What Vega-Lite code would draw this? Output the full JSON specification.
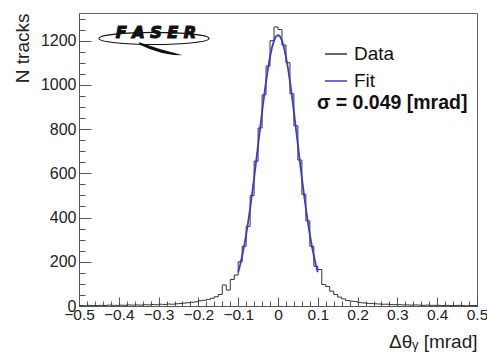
{
  "$schema": "https://vega.github.io/schema/vega-lite/v6.json",
  "width": 398,
  "height": 293,
  "autosize": "none",
  "padding": {"left": 79, "top": 13, "right": 10, "bottom": 48},
  "background": "white",
  "config": {
    "font": "Liberation Sans",
    "view": {"stroke": "#666", "strokeWidth": 1}
  },
  "datasets": {
    "hist": [
      {"dtheta": -0.50, "count": 2}, {"dtheta": -0.49, "count": 1}, {"dtheta": -0.48, "count": 3}, {"dtheta": -0.47, "count": 2}, {"dtheta": -0.46, "count": 2},
      {"dtheta": -0.45, "count": 3}, {"dtheta": -0.44, "count": 2}, {"dtheta": -0.43, "count": 4}, {"dtheta": -0.42, "count": 3}, {"dtheta": -0.41, "count": 3},
      {"dtheta": -0.40, "count": 4}, {"dtheta": -0.39, "count": 3}, {"dtheta": -0.38, "count": 5}, {"dtheta": -0.37, "count": 4}, {"dtheta": -0.36, "count": 5},
      {"dtheta": -0.35, "count": 4}, {"dtheta": -0.34, "count": 6}, {"dtheta": -0.33, "count": 5}, {"dtheta": -0.32, "count": 7}, {"dtheta": -0.31, "count": 6},
      {"dtheta": -0.30, "count": 8}, {"dtheta": -0.29, "count": 7}, {"dtheta": -0.28, "count": 9}, {"dtheta": -0.27, "count": 8}, {"dtheta": -0.26, "count": 10},
      {"dtheta": -0.25, "count": 11}, {"dtheta": -0.24, "count": 13}, {"dtheta": -0.23, "count": 15}, {"dtheta": -0.22, "count": 17}, {"dtheta": -0.21, "count": 19},
      {"dtheta": -0.20, "count": 24}, {"dtheta": -0.19, "count": 26}, {"dtheta": -0.18, "count": 30}, {"dtheta": -0.17, "count": 35}, {"dtheta": -0.16, "count": 42},
      {"dtheta": -0.15, "count": 52}, {"dtheta": -0.14, "count": 95}, {"dtheta": -0.13, "count": 72}, {"dtheta": -0.12, "count": 120}, {"dtheta": -0.11, "count": 140},
      {"dtheta": -0.10, "count": 200}, {"dtheta": -0.09, "count": 270}, {"dtheta": -0.08, "count": 360}, {"dtheta": -0.07, "count": 500}, {"dtheta": -0.06, "count": 655},
      {"dtheta": -0.05, "count": 805}, {"dtheta": -0.04, "count": 955}, {"dtheta": -0.03, "count": 1085}, {"dtheta": -0.02, "count": 1200}, {"dtheta": -0.01, "count": 1262},
      {"dtheta": 0.00, "count": 1250}, {"dtheta": 0.01, "count": 1180}, {"dtheta": 0.02, "count": 1100}, {"dtheta": 0.03, "count": 960}, {"dtheta": 0.04, "count": 815},
      {"dtheta": 0.05, "count": 660}, {"dtheta": 0.06, "count": 505}, {"dtheta": 0.07, "count": 385}, {"dtheta": 0.08, "count": 270}, {"dtheta": 0.09, "count": 180},
      {"dtheta": 0.10, "count": 165}, {"dtheta": 0.11, "count": 97}, {"dtheta": 0.12, "count": 88}, {"dtheta": 0.13, "count": 67}, {"dtheta": 0.14, "count": 52},
      {"dtheta": 0.15, "count": 40}, {"dtheta": 0.16, "count": 32}, {"dtheta": 0.17, "count": 25}, {"dtheta": 0.18, "count": 22}, {"dtheta": 0.19, "count": 20},
      {"dtheta": 0.20, "count": 16}, {"dtheta": 0.21, "count": 14}, {"dtheta": 0.22, "count": 12}, {"dtheta": 0.23, "count": 11}, {"dtheta": 0.24, "count": 10},
      {"dtheta": 0.25, "count": 9}, {"dtheta": 0.26, "count": 8}, {"dtheta": 0.27, "count": 8}, {"dtheta": 0.28, "count": 7}, {"dtheta": 0.29, "count": 6},
      {"dtheta": 0.30, "count": 6}, {"dtheta": 0.31, "count": 5}, {"dtheta": 0.32, "count": 5}, {"dtheta": 0.33, "count": 4}, {"dtheta": 0.34, "count": 5},
      {"dtheta": 0.35, "count": 4}, {"dtheta": 0.36, "count": 3}, {"dtheta": 0.37, "count": 4}, {"dtheta": 0.38, "count": 3}, {"dtheta": 0.39, "count": 3},
      {"dtheta": 0.40, "count": 3}, {"dtheta": 0.41, "count": 2}, {"dtheta": 0.42, "count": 3}, {"dtheta": 0.43, "count": 2}, {"dtheta": 0.44, "count": 2},
      {"dtheta": 0.45, "count": 3}, {"dtheta": 0.46, "count": 2}, {"dtheta": 0.47, "count": 1}, {"dtheta": 0.48, "count": 2}, {"dtheta": 0.49, "count": 2},
      {"dtheta": 0.50, "count": 2}
    ],
    "fit": [
      {"dtheta": -0.100, "count": 153}, {"dtheta": -0.095, "count": 187}, {"dtheta": -0.090, "count": 227}, {"dtheta": -0.085, "count": 272},
      {"dtheta": -0.080, "count": 323}, {"dtheta": -0.075, "count": 380}, {"dtheta": -0.070, "count": 441}, {"dtheta": -0.065, "count": 508},
      {"dtheta": -0.060, "count": 579}, {"dtheta": -0.055, "count": 653}, {"dtheta": -0.050, "count": 728}, {"dtheta": -0.045, "count": 803},
      {"dtheta": -0.040, "count": 878}, {"dtheta": -0.035, "count": 949}, {"dtheta": -0.030, "count": 1016}, {"dtheta": -0.025, "count": 1076},
      {"dtheta": -0.020, "count": 1127}, {"dtheta": -0.015, "count": 1169}, {"dtheta": -0.010, "count": 1200}, {"dtheta": -0.005, "count": 1219},
      {"dtheta": 0.000, "count": 1225},
      {"dtheta": 0.005, "count": 1219}, {"dtheta": 0.010, "count": 1200}, {"dtheta": 0.015, "count": 1169}, {"dtheta": 0.020, "count": 1127},
      {"dtheta": 0.025, "count": 1076}, {"dtheta": 0.030, "count": 1016}, {"dtheta": 0.035, "count": 949}, {"dtheta": 0.040, "count": 878},
      {"dtheta": 0.045, "count": 803}, {"dtheta": 0.050, "count": 728}, {"dtheta": 0.055, "count": 653}, {"dtheta": 0.060, "count": 579},
      {"dtheta": 0.065, "count": 508}, {"dtheta": 0.070, "count": 441}, {"dtheta": 0.075, "count": 380}, {"dtheta": 0.080, "count": 323},
      {"dtheta": 0.085, "count": 272}, {"dtheta": 0.090, "count": 227}, {"dtheta": 0.095, "count": 187}, {"dtheta": 0.100, "count": 153}
    ],
    "notes": [
      {"label": "σ = 0.049 [mrad]", "logo": "F A S E R"}
    ]
  },
  "resolve": {"axis": {"x": "independent", "y": "independent"}},
  "layer": [
    {
      "data": {"name": "hist"},
      "mark": {"type": "line", "interpolate": "step-after", "strokeWidth": 1},
      "encoding": {
        "x": {
          "field": "dtheta", "type": "quantitative",
          "scale": {"domain": [-0.5, 0.5], "nice": false, "zero": false},
          "axis": {
            "orient": "bottom",
            "values": [-0.5, -0.4, -0.3, -0.2, -0.1, 0, 0.1, 0.2, 0.3, 0.4, 0.5],
            "format": "~g",
            "tickSize": -9, "tickColor": "#555", "domainColor": "#555", "grid": false,
            "labelFontSize": 15.5, "labelColor": "#222", "labelPadding": 10, "labelFlush": false, "labelOverlap": false,
            "title": "Δθᵧ [mrad]", "titleFontSize": 19, "titleFontWeight": "normal", "titleColor": "#222",
            "titleAnchor": "end", "titlePadding": 10
          }
        },
        "y": {
          "field": "count", "type": "quantitative",
          "scale": {"domain": [0, 1325], "nice": false},
          "axis": {
            "orient": "left",
            "values": [0, 200, 400, 600, 800, 1000, 1200],
            "format": "d",
            "tickSize": -12, "tickColor": "#555", "domainColor": "#555", "grid": false,
            "labelFontSize": 16, "labelColor": "#222", "labelPadding": 15,
            "title": "N tracks", "titleFontSize": 19, "titleFontWeight": "normal", "titleColor": "#222",
            "titleAnchor": "end", "titlePadding": 8
          }
        },
        "color": {
          "datum": "Data",
          "scale": {"domain": ["Data", "Fit"], "range": ["#333333", "#3b3bcf"]},
          "legend": {
            "orient": "none", "legendX": 245, "legendY": 29, "title": null,
            "labelFontSize": 19, "labelColor": "#111", "labelFont": "Liberation Sans",
            "symbolType": "stroke", "symbolSize": 484, "symbolStrokeWidth": 1.5,
            "rowPadding": 5, "labelOffset": 6, "padding": 0
          }
        }
      }
    },
    {
      "data": {"name": "fit"},
      "mark": {"type": "line", "strokeWidth": 1.8},
      "encoding": {
        "x": {
          "field": "dtheta", "type": "quantitative",
          "axis": {
            "orient": "bottom",
            "values": [-0.48, -0.46, -0.44, -0.42, -0.38, -0.36, -0.34, -0.32, -0.28, -0.26, -0.24, -0.22, -0.18, -0.16, -0.14, -0.12, -0.08, -0.06, -0.04, -0.02, 0.02, 0.04, 0.06, 0.08, 0.12, 0.14, 0.16, 0.18, 0.22, 0.24, 0.26, 0.28, 0.32, 0.34, 0.36, 0.38, 0.42, 0.44, 0.46, 0.48],
            "labels": false, "domain": false, "grid": false, "title": null,
            "tickSize": -5, "tickColor": "#555"
          }
        },
        "y": {
          "field": "count", "type": "quantitative",
          "axis": {
            "orient": "left",
            "values": [50, 100, 150, 250, 300, 350, 450, 500, 550, 650, 700, 750, 850, 900, 950, 1050, 1100, 1150, 1250, 1300],
            "labels": false, "domain": false, "grid": false, "title": null,
            "tickSize": -6, "tickColor": "#555"
          }
        },
        "color": {"datum": "Fit"}
      }
    },
    {
      "data": {"name": "notes"},
      "mark": {"type": "text", "fontWeight": "bold", "fontSize": 19.5, "align": "left", "baseline": "alphabetic", "color": "#111"},
      "encoding": {
        "x": {"datum": 0.098, "type": "quantitative", "axis": null},
        "y": {"datum": 889, "type": "quantitative", "axis": null},
        "text": {"field": "label"}
      }
    },
    {
      "data": {"name": "notes"},
      "mark": {"type": "point", "shape": "M -1 0 A 1 0.11 0 1 0 1 0 A 1 0.11 0 1 0 -1 0 Z", "size": 12100, "filled": false, "stroke": "#111", "strokeWidth": 1.1, "opacity": 1},
      "encoding": {
        "x": {"datum": -0.3116, "type": "quantitative", "axis": null},
        "y": {"datum": 1210, "type": "quantitative", "axis": null}
      }
    },
    {
      "data": {"name": "notes"},
      "mark": {"type": "point", "shape": "M -1 -0.3 Q 0 0.05 1 0.3 Q 0 0.3 -1 -0.2 Z", "size": 1900, "filled": true, "fill": "#111", "strokeWidth": 0, "opacity": 1},
      "encoding": {
        "x": {"datum": -0.294, "type": "quantitative", "axis": null},
        "y": {"datum": 1163, "type": "quantitative", "axis": null}
      }
    },
    {
      "data": {"name": "notes"},
      "mark": {"type": "text", "fontWeight": "bold", "fontStyle": "italic", "fontSize": 16, "align": "center", "baseline": "middle", "color": "#111", "font": "DejaVu Sans", "stroke": "#111", "strokeWidth": 1.2},
      "encoding": {
        "x": {"datum": -0.3065, "type": "quantitative", "axis": null},
        "y": {"datum": 1236, "type": "quantitative", "axis": null},
        "text": {"field": "logo"}
      }
    }
  ]
}
